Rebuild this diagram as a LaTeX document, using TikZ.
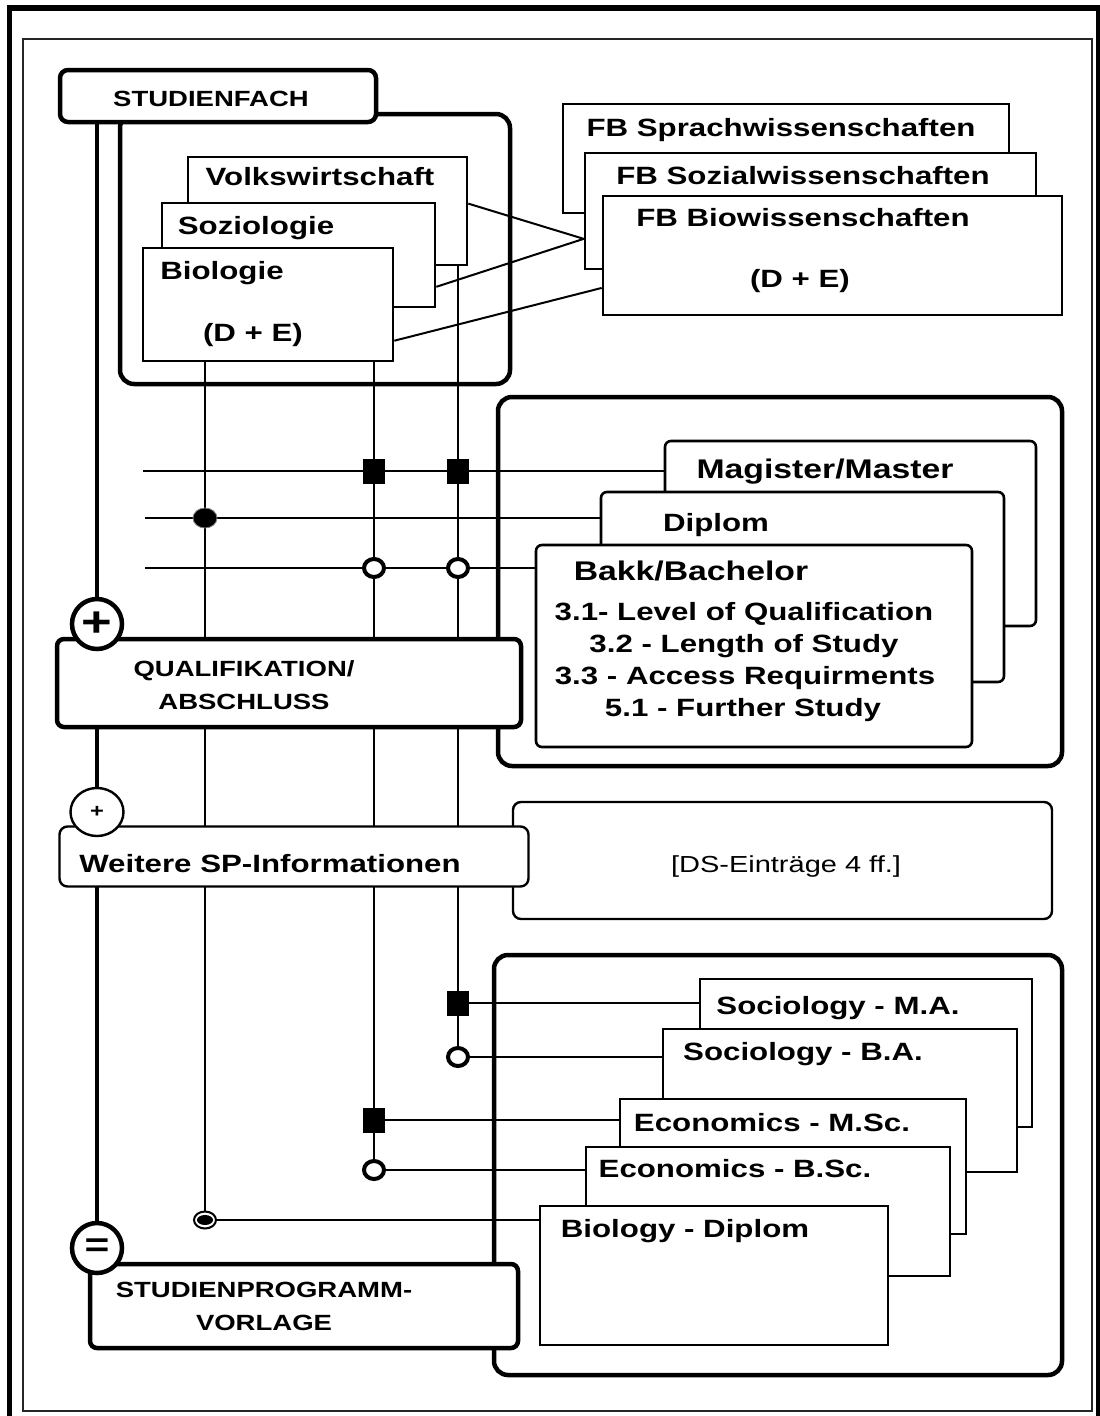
\documentclass[tikz,border=0pt]{standalone}
\usepackage{fontspec}
\setmainfont{Liberation Sans}[FakeStretch=1.25]
\usepackage{tikz}
\usetikzlibrary{shapes.geometric,positioning,backgrounds}

\begin{document}
\begin{tikzpicture}[x=1pt,y=-1pt,
    fbox/.style={draw, fill=white, line width=2.6pt, inner sep=0pt},
    rbox/.style={fbox, rounded corners=6pt},
    hbox/.style={draw, fill=white, line width=4.5pt, rounded corners=8pt, inner sep=0pt},
    cont/.style={line width=4.5pt, rounded corners=14pt},
    wire/.style={line width=2pt},
    spine/.style={line width=4.5pt},
    lbl/.style={font=\fontsize{25}{30}\selectfont\bfseries, inner sep=0pt, text height=18pt, text depth=0pt},
    biglbl/.style={lbl, font=\fontsize{27}{30}\selectfont\bfseries},
    caps/.style={font=\fontsize{22}{33}\selectfont\bfseries, inner sep=0pt, align=center},
    bigring/.style={circle, draw, fill=white, line width=4.5pt, minimum size=50pt, inner sep=0pt},
    sqmark/.style={fill, minimum width=22pt, minimum height=25pt, inner sep=0pt},
    dotmark/.style={ellipse, fill=black, draw=gray, line width=0.8pt, minimum width=24pt, minimum height=20pt, inner sep=0pt},
    ringmark/.style={ellipse, draw, fill=white, line width=4pt, minimum width=20pt, minimum height=18pt, inner sep=0pt},
    bullmark/.style={ellipse, draw, fill=white, line width=2pt, minimum width=22pt, minimum height=17pt, inner sep=0pt,
      path picture={\fill[black] (path picture bounding box.center) ellipse (8pt and 5pt);}}]

    \useasboundingbox (0,0) rectangle (1100,1416);

    % frames
    \draw[line width=5.5pt] (9.5,1420) -- (9.5,8) -- (1098.5,8) -- (1098.5,1420);
    \draw[line width=2pt, black!85] (23,39) rectangle (1092,1411);

    % containers
    \draw[cont] (120,114) rectangle (510,384);
    \draw[cont] (498,397) rectangle (1062,766);
    \draw[cont] (494,955) rectangle (1062,1375);

    % Studienfach
    \node[fbox, minimum width=279pt, minimum height=108pt] (vw) at (327.5,211) {};
    \node[fbox, minimum width=273pt, minimum height=104pt] (soz) at (298.5,255) {};
    \node[fbox, minimum width=250pt, minimum height=113pt] (bio) at (268,304.5) {};

    % Fachbereiche
    \node[fbox, minimum width=446pt, minimum height=109pt] (fbsp) at (786,158.5) {};
    \node[fbox, minimum width=451pt, minimum height=116pt] (fbso) at (810.5,211) {};
    \node[fbox, minimum width=459pt, minimum height=119pt] (fbbi) at (832.5,255.5) {};

    % Abschluesse
    \node[rbox, minimum width=371pt, minimum height=185pt] (mag) at (850.5,533.5) {};
    \node[rbox, minimum width=403pt, minimum height=190pt] (dip) at (802.5,587) {};
    \node[rbox, minimum width=436pt, minimum height=202pt] (bak) at (754,646) {};

    % Studienprogramme
    \node[fbox, minimum width=332pt, minimum height=148pt] (socma) at (866,1053) {};
    \node[fbox, minimum width=354pt, minimum height=143pt] (socba) at (840,1100.5) {};
    \node[fbox, minimum width=346pt, minimum height=135pt] (ecoma) at (793,1166.5) {};
    \node[fbox, minimum width=364pt, minimum height=129pt] (ecoba) at (768,1211.5) {};
    \node[fbox, minimum width=348pt, minimum height=139pt] (biodi) at (714,1275.5) {};

    % DS box
    \node[rbox, rounded corners=8pt, line width=2.4pt, minimum width=539pt, minimum height=117pt] (ds) at (782.5,860.5) {};

    % left column
    \node[hbox, minimum width=316pt, minimum height=52pt] (sfach) at (218,96) {};
    \node[hbox, rounded corners=7pt, minimum width=464pt, minimum height=88pt] (qual) at (289,683) {};
    \node[rbox, rounded corners=8pt, line width=2.4pt, minimum width=469pt, minimum height=60pt] (weit) at (294,856.5) {};
    \node[hbox, rounded corners=7pt, minimum width=428pt, minimum height=84pt] (stprog) at (304,1306) {};

    \node[bigring, font=\fontsize{42}{42}\selectfont\bfseries] (plusA) at (97,624) {+};
    \node[ellipse, draw, fill=white, line width=2.4pt, minimum width=53pt, minimum height=48pt, inner sep=0pt,
          font=\fontsize{19}{19}\selectfont\bfseries] (plusB) at (97,812) {+};
    \node[bigring, font=\fontsize{34}{34}\selectfont\bfseries] (eqC) at (97,1248) {=};

    % markers
    \node[sqmark] (sq2) at (374,471) {};
    \node[sqmark] (sq3) at (458,471) {};
    \node[dotmark] (dot1) at (205,518) {};
    \node[ringmark] (cir2) at (374,568) {};
    \node[ringmark] (cir3) at (458,568) {};
    \node[sqmark] (sqSM) at (458,1003) {};
    \node[ringmark] (cirSB) at (458,1057) {};
    \node[sqmark] (sqEM) at (374,1120) {};
    \node[ringmark] (cirEB) at (374,1170) {};
    \node[bullmark] (bullBD) at (205,1220) {};

    \coordinate (hmag) at (143,471);
    \coordinate (hdip) at (145,518);
    \coordinate (hbak) at (145,568);

    % labels
    \node[caps] (tsfach) at (211,99) {STUDIENFACH};
    \node[lbl] (tvw) at (320,176) {Volkswirtschaft};
    \node[lbl] (tsoz) at (256,225) {Soziologie};
    \node[lbl] (tbio) at (222,270) {Biologie};
    \node[lbl] (tbiode) at (253,332) {(D + E)};
    \node[lbl] (tfbsp) at (781,127) {FB Sprachwissenschaften};
    \node[lbl] (tfbso) at (803,175) {FB Sozialwissenschaften};
    \node[lbl] (tfbbi) at (803,217) {FB Biowissenschaften};
    \node[lbl] (tfbde) at (800,278) {(D + E)};
    \node[biglbl] (tmag) at (825,469) {Magister/Master};
    \node[lbl] (tdip) at (716,522) {Diplom};
    \node[biglbl] (tbak) at (691,571) {Bakk/Bachelor};
    \node[lbl] (tq31) at (744,611) {3.1- Level of Qualification};
    \node[lbl] (tq32) at (744,643) {3.2 - Length of Study};
    \node[lbl] (tq33) at (745,675) {3.3 - Access Requirments};
    \node[lbl] (tq51) at (743,707) {5.1 - Further Study};
    \node[caps] (tqual) at (244,685.5) {QUALIFIKATION/\\ABSCHLUSS};
    \node[lbl] (tweit) at (270,863) {Weitere SP-Informationen};
    \node[lbl, font=\fontsize{23.2}{28}\selectfont] (tds) at (786,863) {[DS-Einträge 4 ff.]};
    \node[caps] (tstp) at (264,1306.5) {STUDIENPROGRAMM-\\VORLAGE};
    \node[lbl] (tsma) at (838,1005) {Sociology - M.A.};
    \node[lbl] (tsba) at (803,1051) {Sociology - B.A.};
    \node[lbl] (tems) at (772,1122) {Economics - M.Sc.};
    \node[lbl] (tebs) at (735,1168) {Economics - B.Sc.};
    \node[lbl] (tbd) at (685,1228) {Biology - Diplom};

    % wires (behind everything)
    \begin{scope}[on background layer]
        \draw[spine] (sfach.south -| plusA) -- (eqC);
        \draw[wire] (vw.3) -- (fbso.187);
        \draw[wire] (soz.-13) -- (fbso.187);
        \draw[wire] (bio.-16) -- (fbbi.188);
        \draw[wire] (bio.south -| dot1) -- (bullBD);
        \draw[wire] (bio.south -| sq2) -- (cirEB);
        \draw[wire] (vw.south -| sq3) -- (cirSB);
        \draw[wire] (hmag) -- (hmag -| mag.west);
        \draw[wire] (hdip) -- (hdip -| dip.west);
        \draw[wire] (hbak) -- (hbak -| bak.west);
        \draw[wire] (sqSM) -- (sqSM -| socma.west);
        \draw[wire] (cirSB) -- (cirSB -| socba.west);
        \draw[wire] (sqEM) -- (sqEM -| ecoma.west);
        \draw[wire] (cirEB) -- (cirEB -| ecoba.west);
        \draw[wire] (bullBD) -- (bullBD -| biodi.west);
    \end{scope}
\end{tikzpicture}
\end{document}
